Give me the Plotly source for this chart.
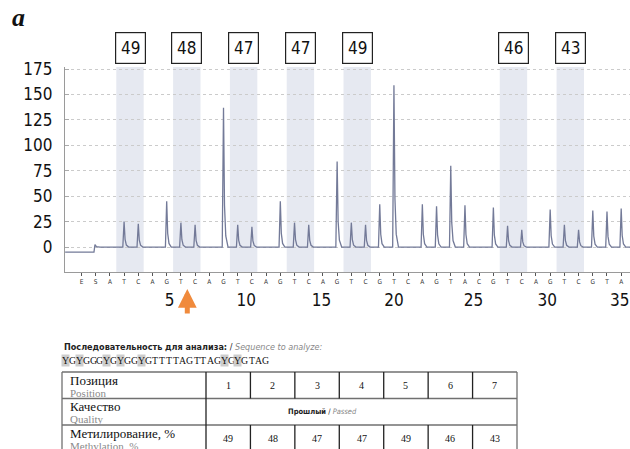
import plotly.graph_objects as go

# ---------------- data ----------------
DISP_LETTERS = list("ESATCAGTCAGTCAGTCAGTCGTCAGTACGTCAGTCGTA")   # dispensation order
PEAK_HEIGHTS = [0, 0, 0, 25, 23, 0, 45, 24, 22, 0, 137, 22, 20, 0, 45, 24, 22, 0,
                84, 24, 22, 42, 159, 0, 42, 40, 80, 41, 0, 39, 21, 17, 0, 37, 22, 17,
                36, 35, 38]
BASELINE_START = -5
CPG_DISPENSATIONS = [(3, 4), (7, 8), (11, 12), (15, 16), (19, 20), (30, 31), (34, 35)]
METHYLATION = [49, 48, 47, 47, 49, 46, 43]
POSITIONS = [1, 2, 3, 4, 5, 6, 7]
X_LABELS = ["5", "10", "15", "20", "25", "30", "35"]
X_LABEL_POS = [6.2, 11.6, 16.9, 22.0, 27.6, 32.8, 37.9]
Y_TICKS = [0, 25, 50, 75, 100, 125, 150, 175]
SEQUENCE = "YGYGGGYGYGGYGTTTTAGTTAGYGYGTAG"
ARROW_POS = 7.45

NARROW = "DejaVu Sans Condensed, Liberation Sans Narrow, Liberation Sans, sans-serif"
SERIF = "Liberation Serif, Times New Roman, serif"

# page geometry helpers (pixels -> paper)
W, H = 630, 449
ML, MR, MT, MB = 65, 0, 67, 177
PW, PH = W - ML - MR, H - MT - MB


def px(x):
    return (x - ML) / PW


def py(y):
    return (H - MB - y) / PH


# ---------------- trace geometry ----------------
xs, ys = [-1.15, 0.88], [BASELINE_START, BASELINE_START]
xs += [0.95, 1.05, 1.3]
ys += [2.5, 0.5, 0]
for k, h in enumerate(PEAK_HEIGHTS):
    if h <= 0:
        continue
    xs += [k - 0.09, k, k + 0.07, k + 0.16, k + 0.32]
    ys += [0, h, 0.3 * h, 0.08 * h, 0]
xs += [38.62]
ys += [0]

fig = go.Figure()
fig.add_trace(go.Scatter(x=xs, y=ys, mode="lines",
                         line=dict(color="#737a98", width=1.3),
                         hoverinfo="skip", showlegend=False))
fig.add_trace(go.Scatter(x=[0], y=[0], xaxis="x2", mode="markers",
                         marker=dict(opacity=0), showlegend=False, hoverinfo="skip"))

shapes = []
annotations = []

for (a, b), m in zip(CPG_DISPENSATIONS, METHYLATION):
    shapes.append(dict(type="rect", xref="x", yref="paper", x0=a - 0.55, x1=b + 0.38,
                       y0=0, y1=1, fillcolor="#e6e9f1", line=dict(width=0), layer="below"))
    annotations.append(dict(xref="x", yref="paper", x=(a + b) / 2 - 0.08, y=py(48),
                            text=str(m), showarrow=False, width=27, height=28,
                            bordercolor="#222", borderwidth=1.2, bgcolor="white",
                            font=dict(family=NARROW, size=17, color="#111"),
                            xanchor="center", yanchor="middle"))

annotations.append(dict(xref="paper", yref="paper", x=px(10), y=py(17), text="<b><i>a</i></b>",
                        showarrow=False, xanchor="left", yanchor="middle",
                        font=dict(family=SERIF, size=26, color="#111")))

annotations.append(dict(xref="x", yref="paper", x=ARROW_POS, y=py(289), ax=0, ay=26,
                        showarrow=True, arrowhead=2, arrowsize=0.75, arrowwidth=5,
                        arrowcolor="#f08a3c", text=""))

annotations.append(dict(xref="paper", yref="paper", x=px(62), y=py(347), xanchor="left",
                        yanchor="middle", showarrow=False,
                        text="<b>Последовательность для анализа:</b> / "
                             "<i><span style='color:#888'>Sequence to analyze:</span></i>",
                        font=dict(family=NARROW, size=9, color="#222")))
CH_W = 6.9
for i, ch in enumerate(SEQUENCE):
    annotations.append(dict(xref="paper", yref="paper", x=px(62 + CH_W * i + CH_W / 2),
                            y=py(360), xanchor="center", yanchor="middle", showarrow=False,
                            text=ch, borderpad=0,
                            bgcolor="#cdcdcd" if ch == "Y" else "rgba(0,0,0,0)",
                            font=dict(family=SERIF, size=9.8, color="#111")))

T_L, T_C1, T_R = 62, 206, 517
T_TOP, ROW_H = 372, 26.5
COL_W = (T_R - T_C1) / len(POSITIONS)
rows_y = [T_TOP + ROW_H * i for i in range(4)]
gray = "#707070"
for yy in rows_y[:3]:
    shapes.append(dict(type="line", xref="paper", yref="paper", x0=px(T_L), x1=px(T_R),
                       y0=py(yy), y1=py(yy), line=dict(color=gray, width=1.3)))
for xx in (T_L, T_R):
    shapes.append(dict(type="line", xref="paper", yref="paper", x0=px(xx), x1=px(xx),
                       y0=py(T_TOP), y1=py(H + 5), line=dict(color=gray, width=1.3)))
shapes.append(dict(type="line", xref="paper", yref="paper", x0=px(T_C1), x1=px(T_C1),
                   y0=py(T_TOP), y1=py(H + 5), line=dict(color="#222", width=1.3)))
for j in range(1, len(POSITIONS)):
    xx = T_C1 + COL_W * j
    for r0, r1 in ((rows_y[0], rows_y[1]), (rows_y[2], H + 5)):
        shapes.append(dict(type="line", xref="paper", yref="paper", x0=px(xx), x1=px(xx),
                           y0=py(r0), y1=py(r1), line=dict(color="#222", width=1.3)))

row_titles = [("Позиция", "Position"), ("Качество", "Quality"),
              ("Метилирование, %", "Methylation, %")]
for i, (ru, en) in enumerate(row_titles):
    annotations.append(dict(xref="paper", yref="paper", x=px(T_L + 6), y=py(rows_y[i] + 8),
                            xanchor="left", yanchor="middle", showarrow=False, text=ru,
                            font=dict(family=SERIF, size=13, color="#111")))
    annotations.append(dict(xref="paper", yref="paper", x=px(T_L + 6), y=py(rows_y[i] + 20.5),
                            xanchor="left", yanchor="middle", showarrow=False, text=en,
                            font=dict(family=SERIF, size=11, color="#8a8a8a")))
for j, (p, m) in enumerate(zip(POSITIONS, METHYLATION)):
    cx = T_C1 + COL_W * (j + 0.5)
    annotations.append(dict(xref="paper", yref="paper", x=px(cx), y=py(rows_y[0] + ROW_H / 2),
                            xanchor="center", yanchor="middle", showarrow=False, text=str(p),
                            font=dict(family=SERIF, size=10, color="#111")))
    annotations.append(dict(xref="paper", yref="paper", x=px(cx), y=py(rows_y[2] + ROW_H / 2),
                            xanchor="center", yanchor="middle", showarrow=False, text=str(m),
                            font=dict(family=SERIF, size=10, color="#111")))
annotations.append(dict(xref="paper", yref="paper", x=px(322),
                        y=py(rows_y[1] + ROW_H / 2), xanchor="center", yanchor="middle",
                        showarrow=False,
                        text="<b>Прошлый</b> / <i><span style='color:#888'>Passed</span></i>",
                        font=dict(family=NARROW, size=7.5, color="#222")))

fig.update_layout(
    width=W, height=H, margin=dict(l=ML, r=MR, t=MT, b=MB),
    paper_bgcolor="white", plot_bgcolor="white",
    shapes=shapes, annotations=annotations, showlegend=False,
    xaxis=dict(range=[-1.16, 38.62], tickvals=X_LABEL_POS, ticktext=X_LABELS,
               ticks="", showgrid=False, zeroline=False, showline=True,
               linecolor="#9a9a9a", linewidth=1.3, ticklabelstandoff=12,
               tickfont=dict(family=NARROW, size=17, color="#111")),
    xaxis2=dict(range=[-1.16, 38.62], overlaying="x", anchor="y", side="bottom",
                tickvals=list(range(len(DISP_LETTERS))), ticktext=DISP_LETTERS,
                ticks="outside", ticklen=3, tickcolor="#555", showgrid=False,
                zeroline=False, showline=False, ticklabelstandoff=0,
                tickfont=dict(family=NARROW, size=6.5, color="#333")),
    yaxis=dict(range=[-24.5, 177], tickvals=Y_TICKS, showgrid=True,
               gridcolor="#cbcbcb", griddash="dot", gridwidth=1, zeroline=False,
               showline=True, linecolor="#9a9a9a", linewidth=1.3, ticks="inside",
               ticklen=4, tickcolor="#aaa", ticklabelstandoff=8,
               tickfont=dict(family=NARROW, size=17, color="#111")),
)

fig.write_html("out.html")
